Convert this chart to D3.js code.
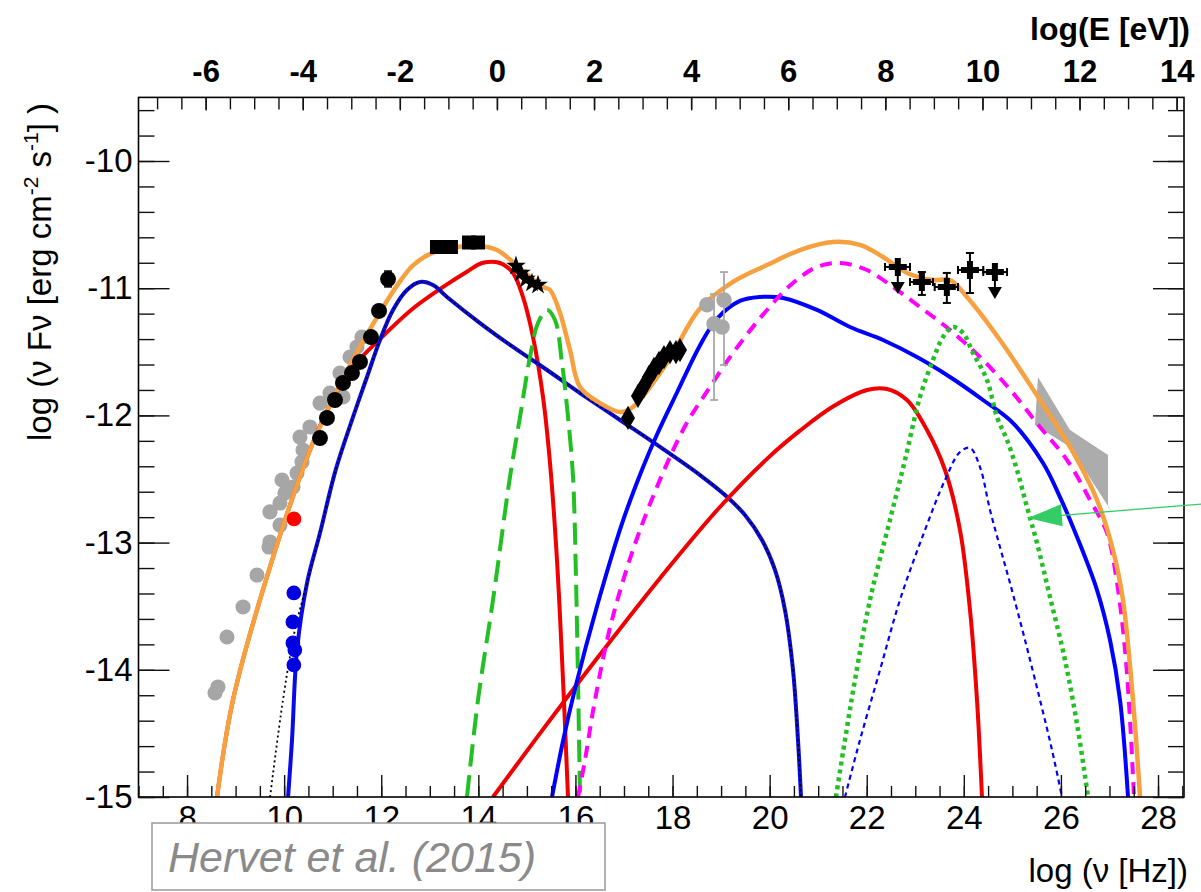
<!DOCTYPE html>
<html>
<head>
<meta charset="utf-8">
<script src="https://cdn.jsdelivr.net/npm/d3@7"></script>
<style>
  body { margin: 0; background: #fff; }
  svg { display: block; }
</style>
</head>
<body>
<svg id="sed" width="1201" height="892"></svg>
<script>
// ---- axes ----
const X_DOMAIN = [7, 28.535];          // log(nu [Hz])
const Y_DOMAIN = [-15, -9.5];          // log(nu F_nu [erg cm^-2 s^-1])
const LOG_HZ_PER_EV = 14.383;          // log10(e/h)
const xMajorTicks = [8, 10, 12, 14, 16, 18, 20, 22, 24, 26, 28];
const yMajorTicks = [-15, -14, -13, -12, -11, -10];
const eMajorTicks = [-6, -4, -2, 0, 2, 4, 6, 8, 10, 12, 14];

// ---- model components: [log nu, log nuFnu] ----
const totalModel = [
  [8.617,-15.0],[8.946,-14.237],[9.708,-13.192],[10.532,-12.272],[10.738,-12.09],
  [11.15,-11.76],[11.562,-11.46],[11.974,-11.19],[12.324,-10.98],[12.654,-10.82],
  [13.066,-10.72],[13.56,-10.676],[14.034,-10.668],[14.384,-10.70],[14.713,-10.794],
  [15.064,-10.912],[15.332,-10.99],[15.476,-11.014],[15.682,-11.195],[15.888,-11.486],
  [16.094,-11.777],[16.506,-11.903],[16.918,-11.973],[17.185,-11.934],[17.886,-11.588],
  [18.565,-11.16],[19.245,-10.951],[19.946,-10.818],[20.625,-10.70],[21.305,-10.637],
  [21.861,-10.66],[22.335,-10.755],[22.829,-10.88],[23.365,-10.936],[23.715,-10.936],
  [24.065,-11.069],[24.745,-11.407],[25.569,-11.879],[26.187,-12.248],[26.743,-12.665],
  [27.072,-13.058],[27.278,-13.451],[27.484,-14.237],[27.63,-15.0]
];
const blobSync = [
  [8.617,-15.0],[8.946,-14.237],[9.708,-13.192],[10.532,-12.272],[10.944,-11.915],
  [11.418,-11.62],[11.974,-11.40],[12.654,-11.16],[13.354,-10.97],[13.766,-10.87],
  [14.096,-10.80],[14.446,-10.802],[14.713,-10.88],[14.919,-11.069],[15.126,-11.384],
  [15.332,-11.855],[15.476,-12.374],[15.62,-13.137],[15.744,-14.08],[15.847,-15]
];
const jetSync = [
  [10.081,-15],[10.162,-14.552],[10.265,-13.844],[10.471,-13.318],[10.738,-12.925],
  [11.06,-12.43],[11.418,-12.013],[11.706,-11.698],[11.974,-11.407],[12.242,-11.171],
  [12.53,-11.014],[12.798,-10.951],[13.066,-10.975],[13.354,-11.069],[14.034,-11.274],
  [14.713,-11.462],[15.414,-11.643],[16.094,-11.824],[16.918,-12.036],[17.742,-12.248],
  [18.565,-12.469],[19.08,-12.626],[19.492,-12.783],[19.842,-12.98],[20.11,-13.215],
  [20.316,-13.53],[20.481,-14.0],[20.584,-14.55],[20.646,-15]
];
const jetSyncLowEnd = [[9.71,-15],[9.976,-14.237],[10.223,-13.686],[10.471,-13.318]];
const diskThermal = [
  [13.766,-15],[13.993,-14.237],[14.302,-13.451],[14.652,-12.484],[14.858,-12.013],
  [15.064,-11.541],[15.229,-11.274],[15.414,-11.171],[15.579,-11.25],[15.723,-11.588],
  [15.847,-12.013],[15.95,-12.484],[16.012,-13.294],[16.053,-14.08],[16.094,-15]
];
const blobSSC = [
  [14.302,-15],[15.27,-14.5],[16.506,-13.88],[17.742,-13.28],[18.977,-12.72],
  [20.007,-12.32],[20.625,-12.12],[21.305,-11.93],[22.005,-11.80],[22.417,-11.792],
  [22.829,-11.879],[23.241,-12.115],[23.612,-12.429],[23.921,-12.901],[24.127,-13.53],
  [24.271,-14.237],[24.374,-15]
];
const jetIC = [
  [15.517,-15],[15.75,-14.55],[15.991,-14.15],[16.444,-13.5],[16.959,-12.85],
  [17.4,-12.4],[17.68,-12.15],[18.092,-11.82],[18.565,-11.45],[18.915,-11.24],
  [19.389,-11.1],[19.801,-11.069],
  [20.275,-11.077],[20.975,-11.171],[21.655,-11.305],[22.335,-11.407],[23.035,-11.541],
  [23.715,-11.698],[24.395,-11.879],[25.013,-12.06],[25.631,-12.374],[25.981,-12.642],
  [26.332,-12.956],[26.743,-13.373],[27.011,-13.766],[27.217,-14.237],[27.382,-15]
];
const blobJetIC = [
  [16.053,-15],[16.197,-14.709],[16.403,-14.237],[16.753,-13.608],[17.33,-12.901],
  [18.215,-12.115],[18.771,-11.777],[19.245,-11.509],[19.946,-11.171],[20.481,-10.959],
  [20.975,-10.833],[21.449,-10.802],[22.005,-10.857],[22.541,-10.991],[23.097,-11.148],
  [23.715,-11.329],[24.395,-11.564],[25.013,-11.824],[25.569,-12.091],[26.126,-12.351],
  [26.599,-12.665],[26.95,-12.925],[27.156,-13.318],[27.32,-13.844],[27.423,-14.395],[27.505,-15]
];
const blobDiskIC = [
  [21.366,-15],[21.552,-14.552],[21.758,-14.08],[22.067,-13.451],[22.479,-12.822],
  [22.788,-12.351],[23.097,-11.855],[23.365,-11.564],[23.571,-11.384],[23.777,-11.305],
  [23.983,-11.352],[24.189,-11.509],[24.477,-11.722],[24.683,-12.013],[24.889,-12.193],
  [25.095,-12.429],[25.301,-12.72],[25.507,-13.003],[25.775,-13.428],[26.084,-13.923],
  [26.352,-14.473],[26.558,-15]
];
const jetDiskIC = [
  [21.552,-15],[21.861,-14.552],[22.273,-14.002],[22.685,-13.451],[23.2,-12.901],
  [23.612,-12.508],[23.921,-12.288],[24.127,-12.256],[24.333,-12.406],[24.539,-12.744],
  [24.745,-13.035],[24.951,-13.318],[25.26,-13.766],[25.569,-14.237],[25.816,-14.63],[26.022,-15]
];

// ---- observations ----
const radioArchive = [
  [8.576,-14.182],[8.637,-14.135],[8.823,-13.742],[9.153,-13.506],[9.441,-13.255],
  [9.688,-13.035],[9.708,-12.995],[9.914,-12.862],[9.708,-12.759],[9.914,-12.689],
  [10.017,-12.61],[9.956,-12.508],[10.182,-12.563],[10.265,-12.453],[10.368,-12.366],
  [10.388,-12.272],[10.326,-12.17],[10.532,-12.091],[10.738,-11.903],[10.944,-11.824],
  [11.212,-11.855],[11.15,-11.667],[11.356,-11.541],[11.5,-11.462],[11.603,-11.384]
];
const radioIR = [
  [10.738,-12.178],[10.882,-12.02],[11.047,-11.879],[11.212,-11.745],[11.397,-11.667],
  [11.562,-11.58],[11.789,-11.384],[11.954,-11.179],[12.14,-10.928]
];
const radioIRErr = [null,null,null,null,null,null,null,null,[-10.99,-10.865]];
const vlbiCore = [[10.203,-12.814]];
const vlbiKnots = [[10.2,-13.396],[10.18,-13.624],[10.18,-13.789],[10.22,-13.844],[10.2,-13.962]];
const infrared = [[13.148,-10.676],[13.436,-10.676],[13.807,-10.641],[13.993,-10.641]];
const optUV = [[14.775,-10.825],[14.878,-10.88],[14.981,-10.928],[15.105,-10.959],[15.229,-10.975]];
const xraySoft = [
  [17.083,-12.02],[17.288,-11.847],[17.412,-11.769],[17.515,-11.698],[17.618,-11.635],
  [17.721,-11.588],[17.824,-11.541],[17.948,-11.502],[18.071,-11.502],[18.154,-11.486]
];
const xrayHard = [[18.71,-11.13],[19.06,-11.093],[18.855,-11.28],[19.02,-11.305]];
const xrayHardErr = [null,[-11.604,-10.873],[-11.879,-11.046],null];
// Fermi-LAT bins
const fermiNu   = [22.64, 23.136, 23.65, 24.126, 24.64];
const fermiF    = [-10.833, -10.951, -10.991, -10.857, -10.873];
const fermiNuLo = [22.376, 22.891, 23.4, 23.88, 24.4];
const fermiNuHi = [22.891, 23.365, 23.88, 24.4, 24.89];
const fermiFLo  = [null, -11.053, -11.116, -11.038, null];
const fermiFHi  = [null, -10.873, -10.88, -10.723, null];
const fermiUL   = [true, false, false, false, true];
// VHE butterfly outline
const vheButterfly = [
  [25.527,-11.698],[26.187,-12.115],[26.97,-12.311],[26.97,-12.72],[27.05,-12.76],
  [26.187,-12.248],[25.465,-12.075]
];
const arrowTip = [25.32, -12.807];
const arrowTail = [28.904, -12.697];

// ---- layout ----
const svg = d3.select("#sed");
const P = { left: 138.5, right: 1184, top: 97.4, bottom: 797 };
const FONT = "'Liberation Sans', Arial, Helvetica, sans-serif";

const x = d3.scaleLinear().domain(X_DOMAIN).range([P.left, P.right]);
const y = d3.scaleLinear().domain(Y_DOMAIN).range([P.bottom, P.top]);
const xE = d3.scaleLinear()
  .domain([X_DOMAIN[0] - LOG_HZ_PER_EV, X_DOMAIN[1] - LOG_HZ_PER_EV])
  .range([P.left, P.right]);

svg.append("defs").append("clipPath").attr("id", "frameClip")
  .append("rect")
  .attr("x", P.left).attr("y", P.top)
  .attr("width", P.right - P.left).attr("height", P.bottom - P.top);

const plot = svg.append("g").attr("clip-path", "url(#frameClip)");

// butterfly
plot.append("path")
  .attr("d", d3.line().x(d => x(d[0])).y(d => y(d[1]))(vheButterfly) + "Z")
  .attr("fill", "#acacac");

// archival radio
plot.append("g").selectAll("path").data(radioArchive).join("path")
  .attr("transform", d => `translate(${x(d[0])},${y(d[1])})`)
  .attr("d", d3.symbol(d3.symbolCircle, 180))
  .attr("fill", "#a6a6a6");

// model curves
const curve = d3.line()
  .x(d => x(d[0])).y(d => y(d[1]))
  .curve(d3.curveCatmullRom.alpha(0.5));

function drawCurve(data, color, width, dash) {
  plot.append("path")
    .attr("d", curve(data))
    .attr("fill", "none")
    .attr("stroke", color)
    .attr("stroke-width", width)
    .attr("stroke-dasharray", dash || null)
    .attr("stroke-linejoin", "round");
}

drawCurve(blobSync, "#f00000", 4);
drawCurve(jetSync, "#0a0ae6", 4);
drawCurve(jetSyncLowEnd.concat(jetSync.slice(4)), "#000", 1.8, "2 3");
drawCurve(diskThermal, "#22c022", 4, "22 9");
drawCurve(blobSSC, "#f00000", 4);
drawCurve(jetIC, "#0000ff", 4);
drawCurve(blobJetIC, "#ff00ff", 4, "12 8");
drawCurve(blobDiskIC, "#22c022", 4.5, "4 4");
drawCurve(jetDiskIC, "#0000ff", 2.2, "5 4");
drawCurve(totalModel, "#f7a040", 4.5);

// observations
function markers(data, type, size, color) {
  plot.append("g").selectAll("path").data(data).join("path")
    .attr("transform", d => `translate(${x(d[0])},${y(d[1])})`)
    .attr("d", d3.symbol(type, size))
    .attr("fill", color);
}
function vBars(data, errs, color, width, cap) {
  const g = plot.append("g").attr("stroke", color).attr("stroke-width", width);
  data.forEach((d, i) => {
    const e = errs[i];
    if (!e) return;
    const px = x(d[0]);
    g.append("line").attr("x1", px).attr("x2", px).attr("y1", y(e[0])).attr("y2", y(e[1]));
    e.forEach(v => g.append("line")
      .attr("x1", px - cap).attr("x2", px + cap).attr("y1", y(v)).attr("y2", y(v)));
  });
}

vBars(radioIR, radioIRErr, "#000", 1.5, 4);
markers(radioIR, d3.symbolCircle, 200, "#000");
markers(vlbiCore, d3.symbolCircle, 170, "#ff0000");
markers(vlbiKnots, d3.symbolCircle, 170, "#0000e0");
markers(infrared, d3.symbolSquare, 196, "#000");
markers(optUV, d3.symbolStar, 120, "#000");
markers(xraySoft, d3.symbolDiamond, 170, "#000");
vBars(xrayHard, xrayHardErr, "#a8a8a8", 1.8, 4);
markers(xrayHard, d3.symbolCircle, 190, "#a8a8a8");

// Fermi-LAT
const fermi = plot.append("g").attr("stroke", "#000").attr("stroke-width", 2);
fermiNu.forEach((nu, i) => {
  const px = x(nu), py = y(fermiF[i]);
  fermi.append("line").attr("x1", x(fermiNuLo[i])).attr("x2", x(fermiNuHi[i])).attr("y1", py).attr("y2", py);
  [fermiNuLo[i], fermiNuHi[i]].forEach(v => fermi.append("line")
    .attr("x1", x(v)).attr("x2", x(v)).attr("y1", py - 4).attr("y2", py + 4));
  if (fermiUL[i]) {
    fermi.append("line").attr("x1", px).attr("x2", px).attr("y1", py).attr("y2", py + 16);
    fermi.append("path")
      .attr("d", `M${px - 7},${py + 15}L${px + 7},${py + 15}L${px},${py + 27}Z`)
      .attr("fill", "#000").attr("stroke", "none");
  } else {
    fermi.append("line").attr("x1", px).attr("x2", px)
      .attr("y1", y(fermiFLo[i])).attr("y2", y(fermiFHi[i]));
    [fermiFLo[i], fermiFHi[i]].forEach(v => fermi.append("line")
      .attr("x1", px - 4).attr("x2", px + 4).attr("y1", y(v)).attr("y2", y(v)));
  }
});
markers(fermiNu.map((nu, i) => [nu, fermiF[i]]), d3.symbolCross, 180, "#000");

// ---- frame and axes ----
svg.append("rect")
  .attr("x", P.left).attr("y", P.top)
  .attr("width", P.right - P.left).attr("height", P.bottom - P.top)
  .attr("fill", "none").attr("stroke", "#000").attr("stroke-width", 1.6);

function finishAxis(g, size, weight) {
  g.select(".domain").remove();
  g.selectAll(".tick line").attr("stroke", "#111").attr("stroke-width", 1.4);
  g.selectAll(".tick text")
    .attr("font-family", FONT).attr("font-size", size)
    .attr("font-weight", weight || "normal").attr("fill", "#000");
}
const halfSteps = (a, b) => d3.range(a * 2, b * 2 + 1).map(i => i / 2);
const fifthSteps = (a, b) => d3.range(Math.round(a * 5), Math.round(b * 5) + 1).map(i => i / 5);

// bottom: log nu
svg.append("g").attr("transform", `translate(0,${P.bottom})`)
  .call(d3.axisBottom(x).tickValues(halfSteps(7, 28.5)).tickSize(-11).tickSizeOuter(0).tickFormat(""))
  .call(g => finishAxis(g, 33));
svg.append("g").attr("transform", `translate(0,${P.bottom})`)
  .call(d3.axisBottom(x).tickValues(xMajorTicks).tickSize(-22).tickSizeOuter(0)
    .tickPadding(9).tickFormat(d => String(d)))
  .call(g => finishAxis(g, 33));

// top: log E
svg.append("g").attr("transform", `translate(0,${P.top})`)
  .call(d3.axisTop(xE).tickValues(halfSteps(-7, 14)).tickSize(-12).tickSizeOuter(0).tickFormat(""))
  .call(g => finishAxis(g, 31, "bold"));
svg.append("g").attr("transform", `translate(0,${P.top})`)
  .call(d3.axisTop(xE).tickValues(eMajorTicks).tickSize(-13).tickSizeOuter(0)
    .tickPadding(15).tickFormat(d => String(d)))
  .call(g => finishAxis(g, 31, "bold"));

// left and right: log nuFnu
svg.append("g").attr("transform", `translate(${P.left},0)`)
  .call(d3.axisLeft(y).tickValues(fifthSteps(-15, -9.6)).tickSize(-16).tickSizeOuter(0).tickFormat(""))
  .call(g => finishAxis(g, 33));
svg.append("g").attr("transform", `translate(${P.left},0)`)
  .call(d3.axisLeft(y).tickValues(yMajorTicks).tickSize(-31).tickSizeOuter(0)
    .tickPadding(6).tickFormat(d => String(d)))
  .call(g => finishAxis(g, 33));
svg.append("g").attr("transform", `translate(${P.right},0)`)
  .call(d3.axisRight(y).tickValues(fifthSteps(-15, -9.6)).tickSize(-16).tickSizeOuter(0).tickFormat(""))
  .call(g => finishAxis(g, 33));
svg.append("g").attr("transform", `translate(${P.right},0)`)
  .call(d3.axisRight(y).tickValues(yMajorTicks).tickSize(-31).tickSizeOuter(0).tickFormat(""))
  .call(g => finishAxis(g, 33));

// axis titles
svg.append("text")
  .attr("x", 1188).attr("y", 882).attr("text-anchor", "end")
  .attr("font-family", FONT).attr("font-size", 33)
  .text("log (ν [Hz])");
svg.append("text")
  .attr("x", 1190).attr("y", 40).attr("text-anchor", "end")
  .attr("font-family", FONT).attr("font-size", 32).attr("font-weight", "bold")
  .text("log(E [eV])");
const yTitle = svg.append("text")
  .attr("transform", "translate(51,272) rotate(-90)")
  .attr("text-anchor", "middle")
  .attr("font-family", FONT).attr("font-size", 33);
yTitle.append("tspan").text("log (ν Fν [erg cm");
yTitle.append("tspan").attr("dy", -13).attr("font-size", 21).text("-2");
yTitle.append("tspan").attr("dy", 13).text(" s");
yTitle.append("tspan").attr("dy", -13).attr("font-size", 21).text("-1");
yTitle.append("tspan").attr("dy", 13).text("] )");

// reference label
svg.append("rect")
  .attr("x", 152).attr("y", 823).attr("width", 453).attr("height", 67)
  .attr("fill", "#fff").attr("stroke", "#999").attr("stroke-width", 1.5);
svg.append("text")
  .attr("x", 168).attr("y", 872)
  .attr("font-family", FONT).attr("font-size", 43).attr("font-style", "italic")
  .attr("fill", "#8a8a8a")
  .text("Hervet et al. (2015)");

// pointer arrow
{
  const tx = x(arrowTip[0]), ty = y(arrowTip[1]);
  const ex = x(arrowTail[0]), ey = y(arrowTail[1]);
  const len = Math.hypot(ex - tx, ey - ty);
  const ux = (ex - tx) / len, uy = (ey - ty) / len;
  const bx = tx + ux * 34, by = ty + uy * 34;
  svg.append("line")
    .attr("x1", bx).attr("y1", by).attr("x2", ex).attr("y2", ey)
    .attr("stroke", "#33cc66").attr("stroke-width", 1.3);
  svg.append("path")
    .attr("d", `M${tx},${ty}L${bx - uy * 11},${by + ux * 11}L${bx + uy * 11},${by - ux * 11}Z`)
    .attr("fill", "#33cc66");
}
</script>
</body>
</html>
